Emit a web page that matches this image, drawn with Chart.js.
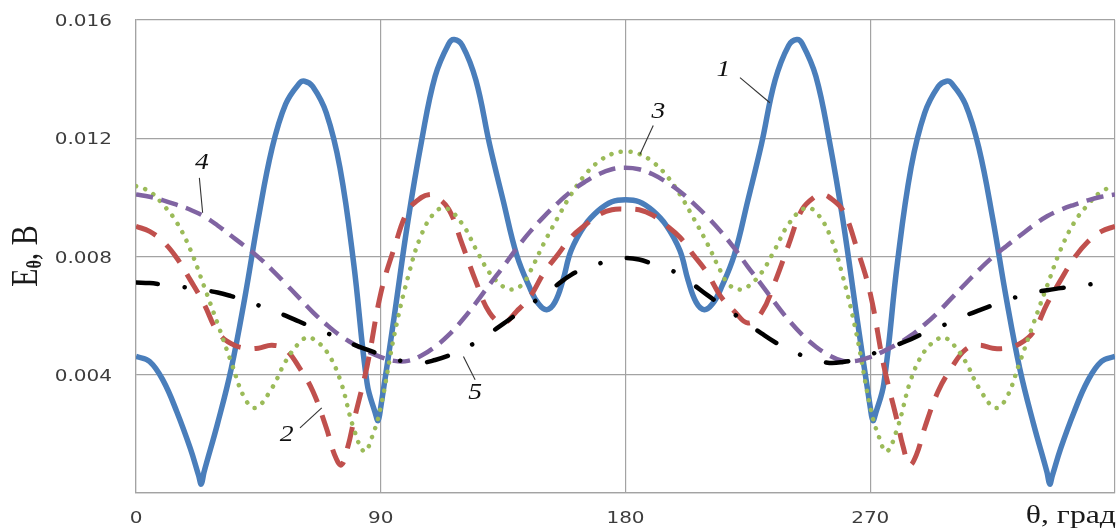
<!DOCTYPE html>
<html>
<head>
<meta charset="utf-8">
<script src="https://cdn.jsdelivr.net/npm/chart.js@4.4.1/dist/chart.umd.min.js"></script>
<style>
  html, body { margin: 0; padding: 0; background: #fff; }
  #chart { display: block; }
</style>
</head>
<body>
<canvas id="chart" width="1118" height="531"></canvas>
<script>
// curve 1 (blue, solid)
const theta1 = [0,5,10,15,20,23,24,25,30,35,40,45,50,55,60,62,65,70,75,80,85,88,89,90,95,100,105,110,115,117,120,125,130,135,140,145,148,151,154,157,160,165,170,175,180,
  185,190,195,200,203,206,209,212,215,220,225,230,235,240,243,245,250,255,260,265,270,271,272,275,280,285,290,295,298,300,305,310,315,320,325,330,335,336,337,340,345,350,355,360];
const e1 = [0.00462,0.00445,0.0038,0.00275,0.0015,0.0006,0.0003,0.0007,0.00235,0.0042,
  0.0066,0.0093,0.01165,0.01315,0.01385,0.01393,0.01375,0.01285,0.011,0.0078,
  0.0037,0.0027,0.00245,0.0029,0.006,0.0092,0.0119,0.0141,0.0152,0.01534,
  0.01514,0.01396,0.0118,0.0099,0.00805,0.0069,0.0064,0.0062,0.00645,0.0072,
  0.0082,0.00905,0.00955,0.00985,0.00992,
  0.00985,0.00955,0.00905,0.0082,0.0072,0.00645,0.0062,0.0064,0.0069,0.00805,
  0.0099,0.0118,0.01396,0.01514,0.01534,0.0152,0.0141,0.0119,0.0092,0.006,
  0.0029,0.00245,0.0027,0.0037,0.0078,0.011,0.01285,0.01375,0.01393,0.01385,
  0.01315,0.01165,0.0093,0.0066,0.0042,0.00235,0.0007,0.0003,0.0006,0.0015,
  0.00275,0.0038,0.00445,0.00462];

// curve 2 (red, dashed)
const theta2 = [0,5,10,15,20,25,30,35,40,45,50,55,60,65,70,73,75.5,78,80,85,90,95,100,105,108,110,115,120,125,130,135,140,145,150,155,160,165,170,175,180,
  185,190,195,200,205,210,215,220,225,230,235,240,245,250,252,255,260,265,270,275,280,282,284.5,287,290,295,300,305,310,315,320,325,330,335,340,345,350,355,360];
const e2 = [0.00902,0.00885,0.0085,0.00795,0.0072,0.0064,0.00545,0.00505,0.0049,0.0049,0.005,0.00485,0.00425,0.00345,0.0022,0.0013,0.00095,0.0016,0.0024,0.0043,
  0.00675,0.0083,0.00955,0.01,0.0101,0.01005,0.0096,0.0084,0.00715,0.0061,0.00575,0.00615,0.00665,0.00745,0.00805,0.00865,0.00905,0.0094,0.00958,0.0096,
  0.00958,0.0094,0.00905,0.00865,0.00805,0.00745,0.00665,0.00615,0.00575,0.0061,0.00715,0.0084,0.0096,0.01005,0.0101,0.01,0.00955,0.0083,0.00675,0.0043,
  0.0024,0.0016,0.00095,0.0013,0.0022,0.00345,0.00425,0.00485,0.005,0.0049,0.0049,0.00505,0.00545,0.0064,0.0072,0.00795,0.0085,0.00885,0.00902];

// curve 3 (green, dotted)
const theta3 = [0,5,10,15,20,25,30,35,40,44,50,55,60,63,65,70,75,80,84,87,90,95,100,105,110,114,120,125,130,135,138,142,145,150,155,160,165,170,175,180,
  185,190,195,200,205,210,215,218,222,225,230,235,240,246,250,255,260,265,270,273,276,280,285,290,295,297,300,305,310,316,320,325,330,335,340,345,350,355,360];
const e3 = [0.01038,0.0102,0.00975,0.00915,0.00823,0.007,0.00573,0.00443,0.0032,0.00288,0.00355,0.00445,0.00508,0.00527,0.00522,0.0048,0.00385,0.0022,0.0014,0.00195,
  0.0029,0.00535,0.0073,0.00875,0.0095,0.00964,0.0091,0.00825,0.00745,0.00698,0.00688,0.00705,0.0075,0.00845,0.0093,0.0101,0.01075,0.0112,0.01147,0.01155,
  0.01147,0.0112,0.01075,0.0101,0.0093,0.00845,0.0075,0.00705,0.00688,0.00698,0.00745,0.00825,0.0091,0.00964,0.0095,0.00875,0.0073,0.00535,0.0029,0.00195,
  0.0014,0.0022,0.00385,0.0048,0.00522,0.00527,0.00508,0.00445,0.00355,0.00288,0.0032,0.00443,0.00573,0.007,0.00823,0.00915,0.00975,0.0102,0.01038];

// curves 4 and 5 share a 5-degree step
const angles = [0,5,10,15,20,25,30,35,40,45,50,55,60,65,70,75,80,85,90,95,100,105,110,115,120,125,130,135,140,145,150,155,160,165,170,175,180,
  185,190,195,200,205,210,215,220,225,230,235,240,245,250,255,260,265,270,275,280,285,290,295,300,305,310,315,320,325,330,335,340,345,350,355,360];

// curve 4 (purple, short dashes)
const e4 = [0.0101,0.01002,0.0099,0.00975,0.00958,0.00936,0.00905,0.0087,0.00835,0.00798,0.00755,0.00708,0.0066,0.00612,0.0057,0.00533,0.00504,0.0048,0.0046,0.00447,
  0.00447,0.00465,0.00495,0.00535,0.00585,0.00643,0.00705,0.00765,0.00828,0.00885,0.00935,0.0098,0.0102,0.01052,0.01078,0.01095,0.011,
  0.01095,0.01078,0.01052,0.0102,0.0098,0.00935,0.00885,0.00828,0.00765,0.00705,0.00643,0.00585,0.00535,0.00495,0.00465,0.00447,0.00447,0.0046,0.0048,0.00504,
  0.00533,0.0057,0.00612,0.0066,0.00708,0.00755,0.00798,0.00835,0.0087,0.00905,0.00936,0.00958,0.00975,0.0099,0.01002,0.0101];

// curve 5 (black, dash-dot)
const e5 = [0.00712,0.0071,0.00705,0.007,0.00693,0.00686,0.00678,0.00666,0.00652,0.00635,0.00618,0.006,0.0058,0.0056,0.00542,0.0052,0.00502,0.00485,0.00468,0.00452,
  0.00443,0.0044,0.0045,0.00465,0.00485,0.0051,0.0054,0.00572,0.00605,0.00638,0.0067,0.00705,0.00738,0.0076,0.00775,0.0079,0.00795,
  0.0079,0.00775,0.0076,0.00738,0.00705,0.0067,0.00638,0.00605,0.00572,0.0054,0.0051,0.00485,0.00465,0.0045,0.0044,0.00443,0.00452,0.00468,0.00485,0.00502,
  0.0052,0.00542,0.0056,0.0058,0.006,0.00618,0.00635,0.00652,0.00666,0.00678,0.00686,0.00693,0.007,0.00705,0.0071,0.00712];

const xTicks = [0, 90, 180, 270];
const yTicks = ['0.004', '0.008', '0.012', '0.016'];

// curve numbers with their leader lines, in (angle, value)
const curveLabels = ['1', '2', '3', '4', '5'];
const labelAt = [[216, 0.0143], [55.4, 0.00197], [192.1, 0.0129], [24.2, 0.01117], [124.7, 0.00338]];
const leaderFrom = [[222.1, 0.01405], [60.3, 0.0022], [190.2, 0.01243], [23.3, 0.01066], [124.7, 0.00383]];
const leaderTo = [[233.1, 0.0132], [68.3, 0.00288], [185.3, 0.01145], [24.5, 0.00948], [120.4, 0.00462]];

const toPoints = (xs, ys) => xs.map((t, i) => ({x: t, y: ys[i]}));

const gridColor = '#a3a3a3';

const extras = {
  id: 'extras',
  afterDraw(chart) {
    const {ctx, scales: {x, y}} = chart;
    ctx.save();
    ctx.fillStyle = '#3c3c3c';

    // y tick labels
    ctx.font = '16px "DejaVu Sans"';
    ctx.textAlign = 'right';
    ctx.textBaseline = 'alphabetic';
    yTicks.forEach(t => {
      ctx.save();
      ctx.translate(x.left - 24, y.getPixelForValue(parseFloat(t)) + 6);
      ctx.scale(1.25, 1);
      ctx.fillText(t, 0, 0);
      ctx.restore();
    });

    // x tick labels
    ctx.textAlign = 'center';
    xTicks.forEach(t => {
      ctx.save();
      ctx.translate(x.getPixelForValue(t), 523);
      ctx.scale(1.25, 1);
      ctx.fillText(String(t), 0, 0);
      ctx.restore();
    });

    // x axis title
    ctx.fillStyle = '#1a1a1a';
    ctx.save();
    ctx.translate(x.right + 1, 523);
    ctx.scale(1.27, 1);
    ctx.font = '25px "Liberation Serif"';
    ctx.textAlign = 'right';
    ctx.fillText('\u03b8, \u0433\u0440\u0430\u0434', 0, 0);
    ctx.restore();

    // y axis title E_theta, B
    ctx.save();
    ctx.translate(37, 256);
    ctx.rotate(-Math.PI / 2);
    ctx.scale(1, 1.27);
    ctx.textAlign = 'left';
    const big = '30px "Liberation Serif"';
    const sub = 'bold 16px "Liberation Serif"';
    ctx.font = big;
    const wE = ctx.measureText('E').width;
    const wRest = ctx.measureText(', B').width;
    ctx.font = sub;
    const wSub = ctx.measureText('\u03b8').width;
    let px = -(wE + wSub + wRest) / 2;
    ctx.font = big;
    ctx.fillText('E', px, 0);
    px += wE;
    ctx.font = sub;
    ctx.fillText('\u03b8', px, 3);
    px += wSub;
    ctx.font = big;
    ctx.fillText(', B', px, 0);
    ctx.restore();

    // curve numbers
    ctx.strokeStyle = '#333';
    ctx.lineWidth = 1.1;
    curveLabels.forEach((name, i) => {
      ctx.beginPath();
      ctx.moveTo(x.getPixelForValue(leaderFrom[i][0]), y.getPixelForValue(leaderFrom[i][1]));
      ctx.lineTo(x.getPixelForValue(leaderTo[i][0]), y.getPixelForValue(leaderTo[i][1]));
      ctx.stroke();
      ctx.save();
      ctx.translate(x.getPixelForValue(labelAt[i][0]), y.getPixelForValue(labelAt[i][1]));
      ctx.scale(1.2, 1);
      ctx.font = 'italic 23px "Liberation Serif"';
      ctx.textAlign = 'center';
      ctx.textBaseline = 'middle';
      ctx.fillStyle = '#111';
      ctx.fillText(name, 0, 0);
      ctx.restore();
    });
    ctx.restore();
  }
};

const ctx = document.getElementById('chart');

const chart = new Chart(ctx, {
  type: 'line',
  data: {
    datasets: [
      {
        label: '1',
        data: toPoints(theta1, e1),
        borderColor: '#4a7ebb',
        borderWidth: 5.5,
        order: 5
      },
      {
        label: '2',
        data: toPoints(theta2, e2),
        borderColor: '#c0504d',
        borderWidth: 5,
        borderDash: [22, 14],
        order: 4
      },
      {
        label: '3',
        data: toPoints(theta3, e3),
        borderColor: '#9bbb59',
        borderWidth: 4.5,
        borderDash: [0.1, 9.5],
        borderCapStyle: 'round',
        order: 3
      },
      {
        label: '4',
        data: toPoints(angles, e4),
        borderColor: '#8064a2',
        borderWidth: 4.5,
        borderDash: [17, 9],
        order: 2
      },
      {
        label: '5',
        data: toPoints(angles, e5),
        borderColor: '#000000',
        borderWidth: 4.5,
        borderDash: [22, 27, 0.1, 27],
        borderCapStyle: 'round',
        order: 1
      }
    ]
  },
  options: {
    responsive: false,
    animation: false,
    devicePixelRatio: 1,
    layout: {padding: {top: 20, right: 3, left: 0, bottom: 0}},
    datasets: {
      line: {
        pointRadius: 0,
        fill: false,
        tension: 0.4,
        borderJoinStyle: 'round'
      }
    },
    plugins: {
      legend: {display: false},
      tooltip: {enabled: false}
    },
    scales: {
      x: {
        type: 'linear',
        min: 0,
        max: 360,
        ticks: {stepSize: 90, display: false},
        grid: {color: gridColor, lineWidth: 1.2, drawTicks: false},
        border: {color: gridColor, width: 1.2},
        afterFit: scale => { scale.height = 38; }
      },
      y: {
        min: 0,
        max: 0.016,
        ticks: {stepSize: 0.004, display: false},
        grid: {color: gridColor, lineWidth: 1.2, drawTicks: false},
        border: {color: gridColor, width: 1.2},
        afterFit: scale => { scale.width = 136; }
      }
    }
  },
  plugins: [extras]
});
</script>
</body>
</html>
